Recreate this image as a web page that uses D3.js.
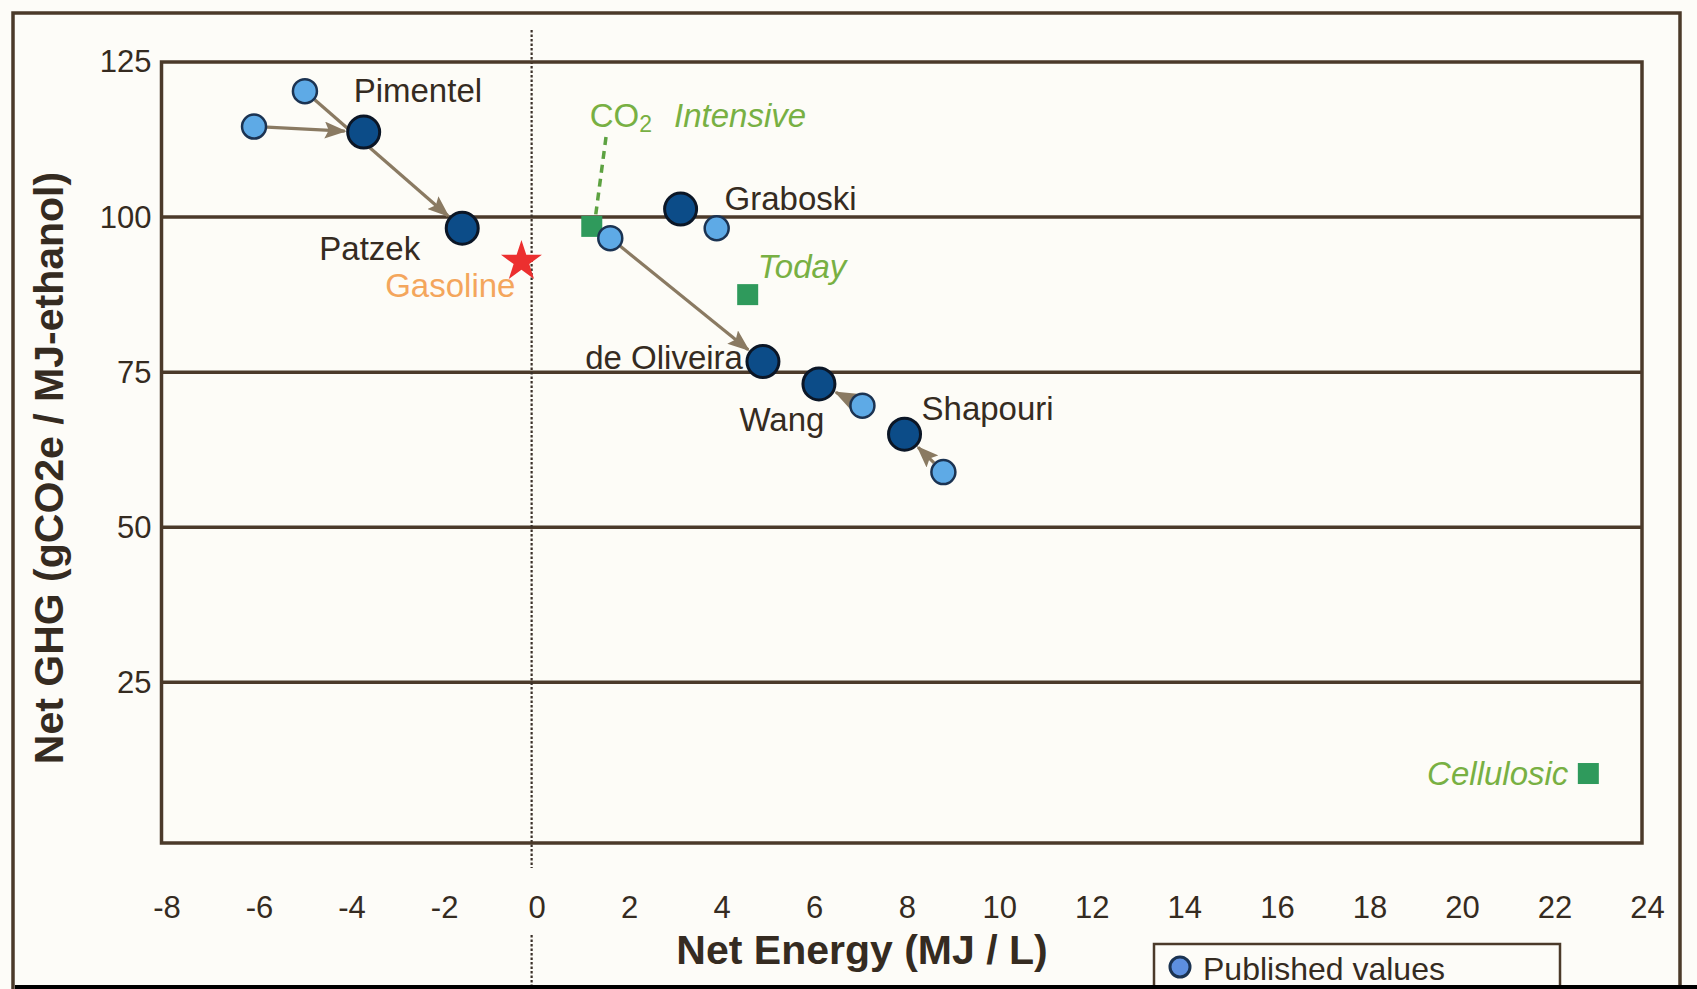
<!DOCTYPE html>
<html>
<head>
<meta charset="utf-8">
<script src="https://cdn.jsdelivr.net/npm/d3@7"></script>
<style>
  html, body { margin: 0; padding: 0; background: #fdfcf8; }
  svg { display: block; }
  text { font-family: "Liberation Sans", Arial, Helvetica, sans-serif; }
</style>
</head>
<body>
<svg id="chart" width="1697" height="989"></svg>
<script>
// Corn-ethanol studies: net energy (MJ/L) vs net GHG (gCO2e/MJ-ethanol)
const studies        = ["Pimentel", "Patzek", "Graboski", "de Oliveira", "Wang", "Shapouri"];
const publishedEnergy = [-6.0, -4.9, 4.0, 1.7, 7.15, 8.9];
const publishedGHG    = [114.6, 120.3, 98.2, 96.6, 69.6, 58.9];
const adjustedEnergy  = [-3.63, -1.5, 3.22, 5.0, 6.21, 8.06];
const adjustedGHG     = [113.7, 98.2, 101.3, 76.7, 73.1, 65.0];
const arrowShown      = [true, true, false, true, true, true];

// Ethanol scenarios and the gasoline reference
const scenarios      = ["CO2 Intensive", "Today", "Cellulosic"];
const scenarioEnergy = [1.3, 4.67, 22.84];
const scenarioGHG    = [98.5, 87.5, 10.3];
const gasolineEnergy = [-0.22];
const gasolineGHG    = [93.0];

const xTicks = [-8, -6, -4, -2, 0, 2, 4, 6, 8, 10, 12, 14, 16, 18, 20, 22, 24];
const yTicks = [25, 50, 75, 100, 125];

// ---- layout ----
const W = 1697, H = 989;
const plot = { left: 161.5, right: 1642, top: 62, bottom: 843 };
const frameColor = "#4b3a2a";
const textColor = "#352b21";
const greenText = "#78b043";
const greenMark = "#2f9a5c";
const arrowColor = "#8a7a62";

const studyLabelLayout = {
  "Pimentel":    { dx: -10, dy: -42, anchor: "start" },
  "Patzek":      { dx: -42, dy: 20,  anchor: "end" },
  "Graboski":    { dx: 44,  dy: -11, anchor: "start" },
  "de Oliveira": { dx: -20, dy: -4,  anchor: "end" },
  "Wang":        { dx: -37, dy: 36,  anchor: "middle" },
  "Shapouri":    { dx: 17,  dy: -26, anchor: "start" }
};
const scenarioLabelLayout = {
  "CO2 Intensive": { dx: -2,  dy: -111, anchor: "start" },
  "Today":         { dx: 10,  dy: -28,  anchor: "start" },
  "Cellulosic":    { dx: -20, dy: 0,    anchor: "end" }
};

const svg = d3.select("#chart");

const x = d3.scaleLinear().domain([-8, 24]).range([plot.left, plot.right]);
const y = d3.scaleLinear().domain([-0.9, 125]).range([plot.bottom, plot.top]);

svg.append("rect").attr("width", W).attr("height", H).attr("fill", "#fdfcf8");

// outer panel frame
svg.append("path")
  .attr("d", `M13,${H} L13,13 L1680,13 L1680,${H}`)
  .attr("fill", "none").attr("stroke", frameColor).attr("stroke-width", 3.5);

// plot background
svg.append("rect")
  .attr("x", plot.left).attr("y", plot.top)
  .attr("width", plot.right - plot.left).attr("height", plot.bottom - plot.top)
  .attr("fill", "#fdfcf7");

// horizontal gridlines
svg.append("g").selectAll("line")
  .data(yTicks.filter(t => t < 125))
  .join("line")
  .attr("x1", plot.left).attr("x2", plot.right)
  .attr("y1", d => y(d)).attr("y2", d => y(d))
  .attr("stroke", frameColor).attr("stroke-width", 3.5);

// zero net-energy divider (dotted)
const zeroX = x(0);
[[30, 868], [935, H]].forEach(([a, b]) => {
  svg.append("line")
    .attr("x1", zeroX).attr("x2", zeroX).attr("y1", a).attr("y2", b)
    .attr("stroke", "#3a3028").attr("stroke-width", 2.2)
    .attr("stroke-dasharray", "2.5,2");
});

// plot frame
svg.append("rect")
  .attr("x", plot.left).attr("y", plot.top)
  .attr("width", plot.right - plot.left).attr("height", plot.bottom - plot.top)
  .attr("fill", "none").attr("stroke", frameColor).attr("stroke-width", 3.5);

// axes
const yAxis = svg.append("g")
  .attr("transform", `translate(${plot.left},0)`)
  .call(d3.axisLeft(y).tickValues(yTicks).tickSize(0).tickPadding(10));
yAxis.select(".domain").remove();
yAxis.selectAll("text")
  .attr("font-size", 31).attr("fill", textColor)
  .style("font-family", '"Liberation Sans", Arial, sans-serif');

const xAxis = svg.append("g")
  .attr("transform", `translate(0,${plot.bottom})`)
  .call(d3.axisBottom(x).tickValues(xTicks).tickSize(0).tickPadding(53).tickFormat(d => String(d)));
xAxis.select(".domain").remove();
xAxis.selectAll("text")
  .attr("font-size", 31).attr("fill", textColor).attr("dx", 5)
  .style("font-family", '"Liberation Sans", Arial, sans-serif');

// axis titles
svg.append("text")
  .attr("x", 862).attr("y", 950)
  .attr("text-anchor", "middle").attr("dominant-baseline", "central")
  .attr("font-size", 41).attr("font-weight", "bold").attr("fill", textColor)
  .text("Net Energy (MJ / L)");

svg.append("text")
  .attr("transform", "translate(49,468) rotate(-90)")
  .attr("text-anchor", "middle").attr("dominant-baseline", "central")
  .attr("font-size", 41).attr("font-weight", "bold").attr("fill", textColor)
  .text("Net GHG (gCO2e / MJ-ethanol)");

// arrowhead marker
svg.append("defs").append("marker")
  .attr("id", "head")
  .attr("viewBox", "0 0 22 17")
  .attr("refX", 20).attr("refY", 8.5)
  .attr("markerWidth", 22).attr("markerHeight", 17)
  .attr("markerUnits", "userSpaceOnUse")
  .attr("orient", "auto")
  .append("path").attr("d", "M0,0 L22,8.5 L0,17 L4,8.5 Z").attr("fill", arrowColor);

const rPub = 12, rAdj = 16;

// arrows from published to adjusted values
const arrows = studies.map((s, i) => ({ i, show: arrowShown[i] })).filter(d => d.show);
svg.append("g").selectAll("line")
  .data(arrows)
  .join("line")
  .each(function (d) {
    const x1 = x(publishedEnergy[d.i]), y1 = y(publishedGHG[d.i]);
    const x2 = x(adjustedEnergy[d.i]), y2 = y(adjustedGHG[d.i]);
    const len = Math.hypot(x2 - x1, y2 - y1);
    const ux = (x2 - x1) / len, uy = (y2 - y1) / len;
    d3.select(this)
      .attr("x1", x1 + ux * (rPub + 1)).attr("y1", y1 + uy * (rPub + 1))
      .attr("x2", x2 - ux * (rAdj + 3)).attr("y2", y2 - uy * (rAdj + 3));
  })
  .attr("stroke", arrowColor).attr("stroke-width", 3.2)
  .attr("marker-end", "url(#head)");

// dashed leader from the CO2-intensive scenario to its label
{
  const sx = x(scenarioEnergy[0]), sy = y(scenarioGHG[0]);
  const L = scenarioLabelLayout["CO2 Intensive"];
  svg.append("line")
    .attr("x1", sx + 4).attr("y1", sy - 12)
    .attr("x2", sx + 15).attr("y2", sy + L.dy + 16)
    .attr("stroke", "#5da241").attr("stroke-width", 3.5)
    .attr("stroke-dasharray", "8,6");
}

// scenario squares
const sq = 21;
svg.append("g").selectAll("rect")
  .data(scenarios.map((s, i) => i))
  .join("rect")
  .attr("x", i => x(scenarioEnergy[i]) - sq / 2)
  .attr("y", i => y(scenarioGHG[i]) - sq / 2)
  .attr("width", sq).attr("height", sq)
  .attr("fill", greenMark);

// published values
svg.append("g").selectAll("circle")
  .data(studies.map((s, i) => i))
  .join("circle")
  .attr("cx", i => x(publishedEnergy[i]))
  .attr("cy", i => y(publishedGHG[i]))
  .attr("r", rPub)
  .attr("fill", "#5eaae6").attr("stroke", "#1b3352").attr("stroke-width", 2.5);

// adjusted values
svg.append("g").selectAll("circle")
  .data(studies.map((s, i) => i))
  .join("circle")
  .attr("cx", i => x(adjustedEnergy[i]))
  .attr("cy", i => y(adjustedGHG[i]))
  .attr("r", rAdj)
  .attr("fill", "#0c4c88").attr("stroke", "#0b1626").attr("stroke-width", 3);

// gasoline star
svg.append("path")
  .attr("d", d3.symbol(d3.symbolStar, 520)())
  .attr("transform", `translate(${x(gasolineEnergy[0])},${y(gasolineGHG[0]) + 1})`)
  .attr("fill", "#ec2f2f");

svg.append("text")
  .attr("x", x(gasolineEnergy[0]) - 6).attr("y", y(gasolineGHG[0]) + 25)
  .attr("text-anchor", "end").attr("dominant-baseline", "central")
  .attr("font-size", 33).attr("fill", "#f4a65c")
  .text("Gasoline");

// study labels
svg.append("g").selectAll("text")
  .data(studies.map((s, i) => i))
  .join("text")
  .attr("x", i => x(adjustedEnergy[i]) + studyLabelLayout[studies[i]].dx)
  .attr("y", i => y(adjustedGHG[i]) + studyLabelLayout[studies[i]].dy)
  .attr("text-anchor", i => studyLabelLayout[studies[i]].anchor)
  .attr("dominant-baseline", "central")
  .attr("font-size", 33).attr("fill", textColor)
  .text(i => studies[i]);

// scenario labels
scenarios.forEach((s, i) => {
  const L = scenarioLabelLayout[s];
  const t = svg.append("text")
    .attr("x", x(scenarioEnergy[i]) + L.dx)
    .attr("y", y(scenarioGHG[i]) + L.dy)
    .attr("text-anchor", L.anchor).attr("dominant-baseline", "central")
    .attr("font-size", 33).attr("fill", greenText);
  if (s === "CO2 Intensive") {
    t.append("tspan").text("CO");
    t.append("tspan").attr("font-size", 23).attr("dy", 9).text("2");
    t.append("tspan").attr("font-style", "italic").attr("dy", -9).attr("dx", 22).text("Intensive");
  } else {
    t.attr("font-style", "italic").text(s);
  }
});

// legend
const lg = svg.append("g");
lg.append("rect")
  .attr("x", 1154).attr("y", 944).attr("width", 406).attr("height", 70)
  .attr("fill", "#fdfcf8").attr("stroke", frameColor).attr("stroke-width", 2.5);
lg.append("circle")
  .attr("cx", 1180).attr("cy", 967).attr("r", 10)
  .attr("fill", "#5d8fe0").attr("stroke", "#1b3352").attr("stroke-width", 3);
lg.append("text")
  .attr("x", 1203).attr("y", 969).attr("dominant-baseline", "central")
  .attr("font-size", 32).attr("fill", textColor)
  .text("Published values");

// panel edge at the bottom
svg.append("rect").attr("x", 15).attr("y", 985).attr("width", W - 15).attr("height", 4).attr("fill", "#000");
</script>
</body>
</html>
